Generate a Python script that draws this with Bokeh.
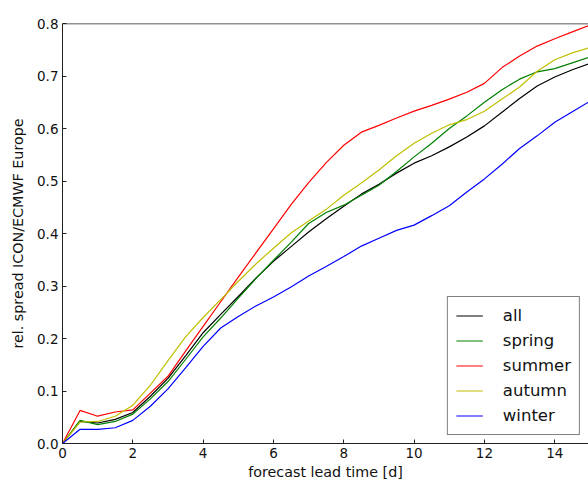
from bokeh.plotting import figure
from bokeh.models import FixedTicker, PrintfTickFormatter, Range1d, Legend, LegendItem, Span
from bokeh.embed import file_html
from bokeh.resources import INLINE

lead_time = [0, 0.5, 1, 1.5, 2, 2.5, 3, 3.5, 4, 4.5, 5, 5.5, 6, 6.5, 7, 7.5,
             8, 8.5, 9, 9.5, 10, 10.5, 11, 11.5, 12, 12.5, 13, 13.5, 14, 14.5, 15]

spread_all = [0, 0.042, 0.039, 0.046, 0.059, 0.090, 0.124, 0.167, 0.211, 0.246, 0.280,
              0.315, 0.347, 0.375, 0.403, 0.428, 0.452, 0.475, 0.494, 0.515, 0.534,
              0.548, 0.565, 0.584, 0.605, 0.631, 0.657, 0.681, 0.698, 0.712, 0.724]
spread_spring = [0, 0.044, 0.036, 0.042, 0.056, 0.085, 0.118, 0.160, 0.203, 0.239, 0.277,
                 0.314, 0.349, 0.383, 0.419, 0.440, 0.454, 0.473, 0.492, 0.518, 0.546,
                 0.572, 0.600, 0.624, 0.650, 0.674, 0.694, 0.708, 0.714, 0.725, 0.736]
spread_summer = [0, 0.063, 0.052, 0.060, 0.064, 0.096, 0.128, 0.176, 0.223, 0.270, 0.317,
                 0.363, 0.409, 0.455, 0.497, 0.535, 0.568, 0.593, 0.606, 0.620, 0.633,
                 0.644, 0.656, 0.669, 0.686, 0.716, 0.738, 0.757, 0.771, 0.784, 0.797]
spread_autumn = [0, 0.041, 0.042, 0.052, 0.073, 0.111, 0.158, 0.203, 0.240, 0.274, 0.309,
                 0.342, 0.372, 0.401, 0.424, 0.446, 0.473, 0.496, 0.521, 0.548, 0.572,
                 0.591, 0.607, 0.617, 0.633, 0.656, 0.679, 0.709, 0.731, 0.744, 0.754]
spread_winter = [0, 0.027, 0.027, 0.030, 0.044, 0.071, 0.104, 0.144, 0.185, 0.220, 0.242,
                 0.262, 0.279, 0.298, 0.319, 0.337, 0.356, 0.376, 0.391, 0.406, 0.416,
                 0.434, 0.453, 0.479, 0.504, 0.532, 0.562, 0.586, 0.612, 0.632, 0.652]

series_names = ["all", "spring", "summer", "autumn", "winter"]
series_colors = ["#000000", "#008000", "#ff0000", "#bfbf00", "#0000ff"]

x_ticks = [0, 2, 4, 6, 8, 10, 12, 14]
y_ticks = [0.0, 0.1, 0.2, 0.3, 0.4, 0.5, 0.6, 0.7, 0.8]

FONT = "DejaVu Sans"

p = figure(width=588, height=482, output_backend="svg", toolbar_location=None,
           x_range=Range1d(0, 14.96), y_range=Range1d(0, 0.8),
           min_border_left=62, min_border_right=0, min_border_top=23, min_border_bottom=38)
p.outline_line_color = None
p.xgrid.visible = False
p.ygrid.visible = False
p.background_fill_color = "white"
p.border_fill_color = "white"

for ax in (p.xaxis[0], p.yaxis[0]):
    ax.major_tick_in = 4
    ax.major_tick_out = 0
    ax.minor_tick_line_color = None
    ax.axis_line_color = "#222222"
    ax.major_tick_line_color = "#222222"
    ax.major_label_text_font = FONT
    ax.major_label_text_font_size = "13.5px"
    ax.major_label_text_color = "#111111"
    ax.axis_label_text_font = FONT
    ax.axis_label_text_font_size = "14.3px"
    ax.axis_label_text_font_style = "normal"
    ax.axis_label_text_color = "#111111"

p.xaxis[0].ticker = FixedTicker(ticks=x_ticks)
p.yaxis[0].ticker = FixedTicker(ticks=y_ticks)
p.yaxis[0].formatter = PrintfTickFormatter(format="%.1f")
p.xaxis[0].axis_label = "forecast lead time [d]"
p.yaxis[0].axis_label = "rel. spread ICON/ECMWF Europe"
p.xaxis[0].major_label_standoff = 4
p.xaxis[0].axis_label_standoff = 3
p.yaxis[0].major_label_standoff = 4
p.yaxis[0].axis_label_standoff = 8

# top spine
p.add_layout(Span(location=0.8, dimension="width", line_color="#222222", line_width=1.5))

all_series = [spread_all, spread_spring, spread_summer, spread_autumn, spread_winter]
items = []
for name, color, vals in zip(series_names, series_colors, all_series):
    r = p.line(lead_time, vals, line_color=color, line_width=1.2)
    items.append(LegendItem(label=name, renderers=[r]))

legend = Legend(items=items, location="bottom_right", margin=8, padding=8,
                spacing=4, glyph_width=27, glyph_height=21, label_height=21,
                label_standoff=20, label_text_font=FONT, label_text_font_size="16.5px",
                label_text_color="#111111",
                border_line_color="#000000", border_line_width=1,
                background_fill_color="white", background_fill_alpha=1.0)
p.add_layout(legend, "center")

open("out.html", "w").write(file_html(p, INLINE))
